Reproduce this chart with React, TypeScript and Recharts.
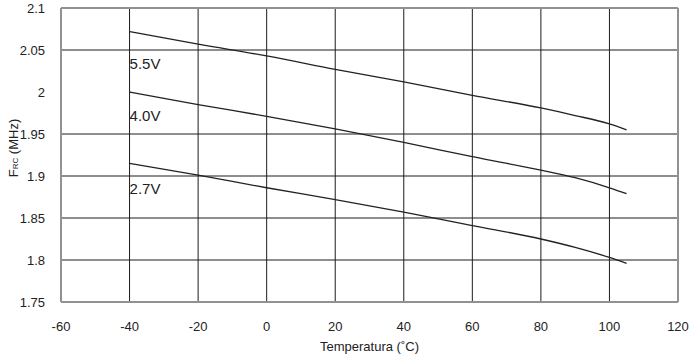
import React from 'react';
import { LineChart, Line, XAxis, YAxis, ReferenceLine, ReferenceDot } from 'recharts';

const temps = [-40, -20, 0, 20, 40, 60, 80, 90, 100, 105];
const v55 = [2.072, 2.057, 2.043, 2.027, 2.012, 1.996, 1.981, 1.972, 1.962, 1.955];
const v40 = [2.0, 1.985, 1.971, 1.956, 1.94, 1.923, 1.907, 1.898, 1.886, 1.879];
const v27 = [1.915, 1.901, 1.886, 1.872, 1.857, 1.841, 1.825, 1.815, 1.803, 1.796];

const xTicks = [-60, -40, -20, 0, 20, 40, 60, 80, 100, 120];
const yTicks = [1.75, 1.8, 1.85, 1.9, 1.95, 2, 2.05, 2.1];
const xGrid = [-40, -20, 0, 20, 40, 60, 80, 100];
const yGrid = [1.8, 1.85, 1.9, 1.95, 2.05];

const seriesLabels = [
  { text: '5.5V', x: -40, y: 2.0333 },
  { text: '4.0V', x: -40, y: 1.9714 },
  { text: '2.7V', x: -40, y: 1.8851 },
];

const data = temps.map((t, i) => ({ t, v55: v55[i], v40: v40[i], v27: v27[i] }));

const FONT = '"Liberation Sans", Arial, Helvetica, sans-serif';
const BORDER = '#8d9296';
const GRID = '#1c1c1c';

const YLabel = () => (
  <text
    x={13}
    y={148}
    transform="rotate(-90 13 148)"
    textAnchor="middle"
    dominantBaseline="central"
    fontFamily={FONT}
    fontSize={13}
    fill="#222"
  >
    <tspan>F</tspan>
    <tspan fontSize={8} dy={2}>RC</tspan>
    <tspan dy={-2}> (MHz)</tspan>
  </text>
);

export default function App() {
  return (
    <div style={{ position: 'absolute', left: 0, top: 0, width: 693, height: 355, background: '#fff' }}>
      <LineChart
        width={693}
        height={355}
        data={data}
        margin={{ top: 8, right: 15, bottom: 0, left: 0 }}
      >
        <XAxis
          dataKey="t"
          type="number"
          domain={[-60, 120]}
          ticks={xTicks}
          interval={0}
          tickLine={false}
          axisLine={{ stroke: BORDER, strokeWidth: 2 }}
          tick={{ fontFamily: FONT, fontSize: 13, fill: '#222' }}
          tickMargin={14}
          height={53}
          label={{
            value: 'Temperatura (˚C)',
            position: 'insideBottom',
            offset: 4,
            fontFamily: FONT,
            fontSize: 13,
            fill: '#222',
          }}
        />
        <YAxis
          type="number"
          domain={[1.75, 2.1]}
          ticks={yTicks}
          interval={0}
          width={61}
          tickLine={false}
          axisLine={{ stroke: BORDER, strokeWidth: 2 }}
          tick={{ fontFamily: FONT, fontSize: 13, fill: '#222' }}
          tickMargin={10}
          label={<YLabel />}
        />
        {xGrid.map((x) => (
          <ReferenceLine key={'vx' + x} x={x} stroke={GRID} strokeWidth={1} />
        ))}
        {yGrid.map((y) => (
          <ReferenceLine key={'hy' + y} y={y} stroke={GRID} strokeWidth={1} />
        ))}
        <ReferenceLine y={2.1} stroke={BORDER} strokeWidth={2} />
        <ReferenceLine x={120} stroke={BORDER} strokeWidth={2} />
        <Line type="monotone" dataKey="v55" stroke="#222" strokeWidth={1.3} dot={false} isAnimationActive={false} />
        <Line type="monotone" dataKey="v40" stroke="#222" strokeWidth={1.3} dot={false} isAnimationActive={false} />
        <Line type="monotone" dataKey="v27" stroke="#222" strokeWidth={1.3} dot={false} isAnimationActive={false} />
        {seriesLabels.map((l) => (
          <ReferenceDot
            key={l.text}
            x={l.x}
            y={l.y}
            r={0}
            fill="none"
            stroke="none"
            label={{ value: l.text, position: 'right', offset: 0, fontFamily: FONT, fontSize: 15, fill: '#222' }}
          />
        ))}
      </LineChart>
    </div>
  );
}
